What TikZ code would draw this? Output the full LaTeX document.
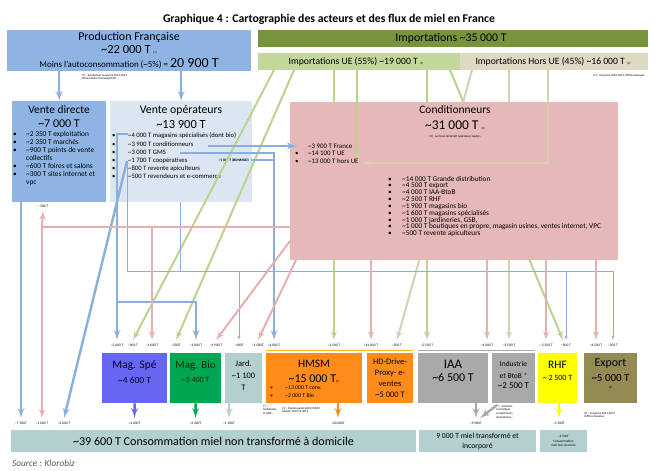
\documentclass[tikz,border=0pt]{standalone}
\usepackage{fontspec}
\setmainfont{Carlito}
\usepackage{tikz}
\usetikzlibrary{arrows}
\definecolor{prodblue}{HTML}{8EB4E3}
\definecolor{opblue}{HTML}{DCE6F2}
\definecolor{impdark}{HTML}{77933C}
\definecolor{impue}{HTML}{C3D69B}
\definecolor{imphue}{HTML}{DDD9C3}
\definecolor{condpink}{HTML}{E6B9B8}
\definecolor{lineblue}{HTML}{8AAEDE}
\definecolor{linegreen}{HTML}{BCD38E}
\definecolor{linebeige}{HTML}{D6D1B6}
\definecolor{linepink}{HTML}{E6B0AF}
\definecolor{spe}{HTML}{6666F2}
\definecolor{bio}{HTML}{00A651}
\definecolor{teal}{HTML}{B3CFCF}
\definecolor{hmsmorange}{HTML}{FF8C1A}
\definecolor{iaagray}{HTML}{A9A9A9}
\definecolor{rhfyellow}{HTML}{FFFF00}
\definecolor{exportolive}{HTML}{948A54}
\newcommand{\apx}{\textasciitilde}
\newcommand{\fsz}[2]{\fontsize{#1}{#2}\selectfont}

\begin{document}
\begin{tikzpicture}[>=latex', every node/.style={inner sep=0pt},
  box/.style={rectangle, anchor=north west},
  qty/.style={font=\fsz{3.6}{4}, inner ysep=3.5bp},
  note/.style={font=\fsz{3}{3.6}, align=left, anchor=north west},
  list/.style={anchor=north west, align=left},
  blueflow/.style={draw=lineblue, line width=2.4bp},
  thinflow/.style={draw=lineblue, line width=0.6bp},
  greenflow/.style={draw=linegreen, line width=2bp},
  beigeflow/.style={draw=linebeige, line width=2bp},
  pinkflow/.style={draw=linepink, line width=2bp}]
  \path[use as bounding box, fill=white] (0bp,0bp) rectangle (659bp,-471bp);

  % Title
  \node (title) at (329bp,-19bp) {\fsz{11.8}{13}\bfseries Graphique 4 : Cartographie des acteurs et des flux de miel en France};

  % Production
  \node[box, fill=prodblue, minimum width=244bp, minimum height=41bp] (prod) at (7bp,-30bp) {};
  \node (prodname) at (129bp,-37bp) {\fsz{12}{13}Production Française};
  \node (prodqty) at (129bp,-50bp) {\fsz{12.5}{14}\apx22 000 T {\fsz{3}{3}(1)}};
  \node (prodnet) at (129bp,-64bp) {\fsz{9}{10}Moins l'autoconsommation (\apx5\%) = {\fsz{14}{15}20 900 T}};
  \node[note] (prodnote) at (82bp,-74bp) {(1) : production moyenne 2015-2019\\Observatoire FranceAgriMer};

  % Importations
  \node[box, fill=impdark, minimum width=390bp, minimum height=17bp] (imp) at (258bp,-30bp) {};
  \node (impname) at (451bp,-38.5bp) {\fsz{11.8}{12}Importations \apx35 000 T};
  \node[box, fill=impue, minimum width=202bp, minimum height=17bp] (impue) at (258bp,-53bp) {};
  \node (impuename) at (356bp,-61.5bp) {\fsz{9.7}{10}Importations UE (55\%) \apx19 000 T {\fsz{3}{3}(2)}};
  \node[box, fill=imphue, minimum width=188bp, minimum height=17bp] (imphue) at (460bp,-53bp) {};
  \node (imphuename) at (553bp,-61.5bp) {\fsz{9.7}{10}Importations Hors UE (45\%) \apx16 000 T {\fsz{3}{3}(2)}};
  \node[note, anchor=north east] (impnote) at (645bp,-74bp) {(2) : moyenne 2001-2019 chiffres douanes};

  % Vente directe
  \node[box, fill=prodblue, minimum width=94bp, minimum height=101bp] (vd) at (12bp,-101bp) {};
  \node (vdname) at (59bp,-110bp) {\fsz{11.4}{12}Vente directe};
  \node (vdqty) at (59bp,-124bp) {\fsz{12}{14}\apx7 000 T};
  \node[list, font=\fsz{7.4}{8}] (vdlist) at (13bp,-131bp) {\begin{tabular}{@{}p{13bp}@{}l@{}}
    • & \apx2 350 T exploitation\\
    • & \apx2 350 T marchés\\
    • & \apx900 T points de vente\\
      & collectifs\\
    • & \apx600 T foires et salons\\
    • & \apx300 T sites internet et\\
      & vpc
  \end{tabular}};

  % Vente operateurs
  \node[box, fill=opblue, minimum width=142bp, minimum height=101bp] (vo) at (110bp,-101bp) {};
  \node (voname) at (181bp,-110bp) {\fsz{11.8}{12}Vente opérateurs};
  \node (voqty) at (181bp,-124bp) {\fsz{12.5}{14}\apx13 900 T};
  \node[list, font=\fsz{6.7}{8.2}] (volist) at (112bp,-132bp) {\begin{tabular}{@{}p{16bp}@{}l@{}}
    • & \apx4 000 T magasins spécialisés (dont bio)\\
    • & \apx3 900 T conditionneurs\\
    • & \apx3 000 T GMS\\
    • & \apx1 700 T coopératives\\
    • & \apx800 T revente apiculteurs\\
    • & \apx500 T revendeurs et e-commerce
  \end{tabular}};
  \node[anchor=east] (vobonname) at (249bp,-160bp) {\fsz{3.6}{4}\bfseries \apx1 000 T (BONMOD)};

  % Quantities at the top of the shops
  \node[qty] (qspevo) at (117bp,-345bp) {\apx3 000 T};
  \node[qty] (qspeue) at (133bp,-345bp) {\apx900 T};
  \node[qty] (qspecd) at (152bp,-345bp) {\apx1 600 T};
  \node[qty] (qbioue) at (176bp,-345bp) {\apx500T};
  \node[qty] (qbiovo) at (196bp,-345bp) {\apx1 000 T};
  \node[qty] (qbiocd) at (216bp,-345bp) {\apx1 900 T};
  \node[qty] (qjardvo) at (239bp,-345bp) {\apx100T};
  \node[qty] (qjardcd) at (258bp,-345bp) {\apx1 000T};
  \node[qty] (qhmsmvo) at (274bp,-345bp) {\apx4 000 T};
  \node[qty] (qhmsmue) at (334bp,-345bp) {\apx1 500 T};
  \node[qty] (qhmsmcd) at (371bp,-345bp) {\apx14 000 T};
  \node[qty] (qhdhue) at (397bp,-345bp) {\apx500 T};
  \node[qty] (qiaaue) at (427bp,-345bp) {\apx2 500 T};
  \node[qty] (qiaacd) at (487bp,-345bp) {\apx4 000 T};
  \node[qty] (qindhue) at (509bp,-345bp) {\apx2 500 T};
  \node[qty] (qrhfcd) at (546bp,-345bp) {\apx\ 2 500 T};
  \node[qty] (qrhfvo) at (566bp,-345bp) {\apx900 T};
  \node[qty] (qexpcd) at (596bp,-345bp) {\apx4 500 T};
  \node[qty] (qexpvo) at (613bp,-345bp) {\apx500 T};

  % Flows behind Conditionneurs
  \coordinate (uerhf) at (450bp,-70bp);
  \coordinate (huehd) at (472bp,-70bp);
  \draw[greenflow, ->] (impue.south -| qhmsmue) -- (qhmsmue.north);
  \draw[greenflow, ->] (impue.south -| qiaaue) -- (qiaaue.north);
  \draw[greenflow, ->] (uerhf) -- ([xshift=-3bp]qrhfvo.north);
  \draw[beigeflow, ->] (huehd) -- (qhdhue.north);
  \draw[beigeflow, ->] (imphue.south -| qindhue) -- (qindhue.north);

  % Conditionneurs
  \node[box, fill=condpink, minimum width=328bp, minimum height=158bp] (cond) at (290bp,-102bp) {};
  \node (condname) at (455bp,-110bp) {\fsz{11.5}{13}Conditionneurs};
  \node (condqty) at (455bp,-125bp) {\fsz{13.5}{15}\apx31 000 T {\fsz{3}{3}(3)}};
  \node (condnote) at (455bp,-137bp) {\fsz{3}{3.6}(3) : sur base déclaratif opérateurs leaders};
  \node[list, font=\fsz{6.9}{7.5}] (condin) at (295bp,-143bp) {\begin{tabular}{@{}p{13bp}@{}l@{}}
      & \apx3 900 T France\\
    • & \apx14 100 T UE\\
    • & \apx13 000 T hors UE
  \end{tabular}};
  \node[list, font=\fsz{7.3}{6.4}] (condout) at (388bp,-176bp) {\begin{tabular}{@{}p{14bp}@{}l@{}}
    • & \apx14 000 T Grande distribution\\
    • & \apx4 500 T export\\
    • & \apx4 000 T IAA-BtoB\\
    • & \apx2 500 T RHF\\
    • & \apx1 900 T magasins bio\\
    • & \apx1 600 T magasins spécialisés\\
    • & \apx1 000 T jardineries, GSB,\\
    • & \apx1 000 T boutiques en propre, magasin usines, ventes internet, VPC\\
    • & \apx500 T revente apiculteurs
  \end{tabular}};

  % Importations into Conditionneurs and shops
  \coordinate (uecond) at (357bp,-158bp);
  \coordinate (huecond) at (548bp,-70bp);
  \coordinate (huetip) at (363bp,-163bp);
  \coordinate (uespe) at (274bp,-70bp);
  \coordinate (uebio) at (294bp,-70bp);
  \draw[greenflow, ->] (impue.south -| uecond) -- (uecond);
  \draw[beigeflow, ->] (huecond) |- (huetip);
  \draw[greenflow, ->] (uespe) -- (qspeue.north);
  \draw[greenflow, ->] (uebio) -- (qbioue.north);

  % Quantities at the bottom
  \node[qty] (qvdcd) at (43bp,-206bp) {\apx\ 500 T};
  \node[qty] (qdomvd) at (21bp,-423bp) {\apx7 500T};
  \node[qty] (qdomcd) at (42bp,-423bp) {\apx1 000 T};
  \node[qty] (qdomvo) at (64bp,-423bp) {\apx2 000 T};
  \node[qty] (qdomspe) at (134.5bp,-423bp) {\apx4 600T};
  \node[qty] (qdombio) at (195.5bp,-423bp) {\apx3 400T};
  \node[qty] (qdomjard) at (229bp,-423bp) {\apx1 100T};
  \node[qty] (qdomhmsm) at (338bp,-423bp) {\apx20 000T};
  \node[qty] (qtrans) at (476bp,-423bp) {\apx9 000T};
  \node[qty] (qrhd) at (559bp,-423bp) {\apx2 500T};

  % Flows from Vente directe and Vente operateurs
  \coordinate (vospe) at (128bp,-134bp);
  \coordinate (vobio) at (117bp,-302bp);
  \coordinate (vocoop) at (127bp,-161bp);
  \coordinate (vocond) at (208bp,-146bp);
  \coordinate (vogms) at (180bp,-153bp);
  \coordinate (vobon) at (251bp,-160bp);
  \coordinate (vothin) at (127bp,-163bp);
  \coordinate (vothinb) at (180bp,-202bp);
  \coordinate (thinrow) at (127bp,-271bp);
  \draw[blueflow, ->] (prod.south -| vd.north) -- (vd.north);
  \draw[blueflow, ->] (prod.south -| vo.north) -- (vo.north);
  \draw[blueflow, ->] (vd.south -| qdomvd) -- (qdomvd.north);
  \draw[blueflow, ->] (vospe) -| (qspevo.north);
  \draw[blueflow, ->] (vobio) -| (qbiovo.north);
  \draw[blueflow, ->] (vocoop) -- (qdomvo.north);
  \draw[blueflow, ->] (vocond) -- ([xshift=7bp]vocond -| cond.west);
  \draw[blueflow, ->] (vogms) -| (qhmsmvo.north);
  \draw[blueflow, line width=1.4bp] (vobon) -- (vobon -| qhmsmvo);
  \draw[thinflow, ->] (vothin) -- (thinrow) -| (qexpvo.north);
  \draw[thinflow] (vothinb) -- (vothinb |- thinrow);
  \draw[thinflow, ->] (thinrow -| qjardvo) -- (qjardvo.north);
  \draw[thinflow, ->] (thinrow -| qrhfvo) -- (qrhfvo.north);

  % Flows from Conditionneurs
  \coordinate (cdrow) at (290bp,-227bp);
  \coordinate (cdbio) at (290bp,-241bp);
  \coordinate (cdjard) at (296bp,-260bp);
  \draw[pinkflow, ->] (cdrow) -| (qdomcd.north);
  \draw[pinkflow, ->] (cdrow -| qdomcd) -- (qvdcd.south);
  \draw[pinkflow, ->] (cdrow -| qspecd) -- (qspecd.north);
  \draw[pinkflow, ->] (cdbio) -- (qbiocd.north);
  \draw[pinkflow, ->] (cdjard) -- (qjardcd.north);
  \draw[pinkflow, ->] (cond.south -| qhmsmcd) -- (qhmsmcd.north);
  \draw[pinkflow, ->] (cond.south -| qiaacd) -- (qiaacd.north);
  \draw[pinkflow, ->] (cond.south -| qrhfcd) -- (qrhfcd.north);
  \draw[pinkflow, ->] (cond.south -| qexpcd) -- (qexpcd.north);

  % Shops
  \node[box, fill=spe, minimum width=65bp, minimum height=50bp] (magspe) at (102bp,-353bp) {};
  \node[box, fill=bio, minimum width=51bp, minimum height=50bp] (magbio) at (170bp,-353bp) {};
  \node[box, fill=teal, minimum width=37bp, minimum height=50bp] (jard) at (225bp,-353bp) {};
  \node[box, fill=hmsmorange, minimum width=96bp, minimum height=50bp] (hmsm) at (266bp,-353bp) {};
  \node[box, fill=hmsmorange, minimum width=46bp, minimum height=50bp] (hd) at (367bp,-353bp) {};
  \node[box, fill=iaagray, minimum width=70bp, minimum height=50bp] (iaa) at (418bp,-353bp) {};
  \node[box, fill=iaagray, minimum width=43bp, minimum height=50bp] (indus) at (492bp,-353bp) {};
  \node[box, fill=rhfyellow, minimum width=39bp, minimum height=50bp] (rhf) at (538bp,-353bp) {};
  \node[box, fill=exportolive, minimum width=53bp, minimum height=50bp] (export) at (584bp,-353bp) {};
  \draw[draw=hmsmorange!60!yellow, line width=0.8bp] ([yshift=3bp]hmsm.north west) -- ([yshift=3bp]hd.north east);
  \draw[draw=iaagray, line width=0.8bp] ([yshift=3bp]iaa.north west) -- ([yshift=3bp]indus.north east);

  \node[text=black!80!blue] (magspename) at (134.5bp,-366bp) {\fsz{11.5}{13}Mag. Spé};
  \node[text=black!80!blue] (magspeqty) at (134.5bp,-380bp) {\fsz{9.5}{11}\apx4 600 T};
  \node[text=black!85!green] (magbioname) at (195.5bp,-366bp) {\fsz{11}{13}Mag. Bio};
  \node[text=black!85!green] (magbioqty) at (195.5bp,-380bp) {\fsz{8}{10}\apx3 400 T};
  \node[align=center, font=\fsz{8.5}{12}] (jardname) at (243.5bp,-376bp) {Jard.\\\apx1 100\\T};
  \node (hmsmname) at (314bp,-364bp) {\fsz{11.5}{13}HMSM};
  \node (hmsmqty) at (314bp,-379bp) {\fsz{12}{14}\apx15 000 T{\fsz{3}{3}(4)}};
  \node[list, font=\fsz{5.8}{8}] (hmsmlist) at (270bp,-384bp) {\begin{tabular}{@{}p{15bp}@{}l@{}}
    \textcolor{red!60!black}{•} & \apx13 000 T conv.\\
    \textcolor{red!60!black}{•} & \apx2 000 T Bio
  \end{tabular}};
  \node[align=center, font=\fsz{8.5}{11}] (hdname) at (390bp,-378bp) {HD-Drive-\\Proxy- e-\\ventes\\\apx5 000 T};
  \node (iaaname) at (453bp,-364bp) {\fsz{13}{15}IAA};
  \node (iaaqty) at (453bp,-378bp) {\fsz{12}{14}\apx6 500 T};
  \node[align=center, font=\fsz{7.5}{12.5}] (indusname) at (513.5bp,-370bp) {Industrie\\et BtoB *};
  \node (indusqty) at (513.5bp,-386bp) {\fsz{9}{10}\apx2 500 T};
  \node (rhfname) at (557.5bp,-365bp) {\fsz{11.5}{13}RHF};
  \node (rhfqty) at (557.5bp,-378bp) {\fsz{8}{10}\apx\ 2 500 T};
  \node (exportname) at (610.5bp,-364bp) {\fsz{12}{14}Export};
  \node (exportqty) at (610.5bp,-378bp) {\fsz{11}{13}\apx5 000 T};
  \node (exportref) at (610.5bp,-388bp) {\fsz{3}{3}(5)};

  % Footnotes of the shops
  \node[note] (jardnote) at (263bp,-405bp) {(*) :\\Jardineries\\et GSB...};
  \node[note] (hmsmnote) at (282bp,-407bp) {(4) : d'après panel distri HMSM\\Nielsen CAM S2 2019};
  \node[note] (indusnote) at (496bp,-405bp) {(*) : industrie\\cosmétique,\\compléments\\alimentaires, ...};
  \node[note] (exportnote) at (584bp,-412bp) {(5) : moyenne 2015-2019\\chiffres douanes};

  % Flows into consumption
  \coordinate (indusdiag) at (497bp,-405bp);
  \draw[->, draw=spe, line width=2.4bp] (magspe.south) -- (qdomspe.north);
  \draw[->, draw=bio, line width=2.4bp] (magbio.south) -- (qdombio.north);
  \draw[->, draw=teal, line width=2.4bp] (jard.south -| qdomjard) -- (qdomjard.north);
  \draw[->, draw=hmsmorange, line width=2.4bp] (hmsm.south -| qdomhmsm) -- (qdomhmsm.north);
  \draw[->, draw=iaagray, line width=2.4bp] (iaa.south -| qtrans) -- (qtrans.north);
  \draw[->, draw=iaagray, line width=2.4bp] (indusdiag) -- ([xshift=4bp]qtrans.north);
  \draw[->, draw=rhfyellow, line width=2.4bp] (rhf.south -| qrhd) -- (qrhd.north);

  % Consumption
  \node[box, fill=teal, minimum width=405bp, minimum height=22bp] (consdom) at (11bp,-430bp) {};
  \node (consdomname) at (213.5bp,-441bp) {\fsz{12.1}{13}\apx39 600 T Consommation miel non transformé à domicile};
  \node[box, fill=teal, minimum width=117bp, minimum height=22bp] (constr) at (419bp,-430bp) {};
  \node[align=center, font=\fsz{7.7}{10}] (constrname) at (477.5bp,-441bp) {9 000 T miel transformé et\\incorporé};
  \node[box, fill=teal, minimum width=47bp, minimum height=22bp] (conshd) at (540bp,-430bp) {};
  \node[align=center, font=\fsz{3.3}{4.2}] (conshdname) at (563.5bp,-441bp) {\apx2 500T\\Consommation\\miel hors domicile};
  \node[anchor=west, text=black!65] (source) at (12bp,-463bp) {\fsz{9.3}{10}\itshape Source : Klorobiz};
\end{tikzpicture}
\end{document}
